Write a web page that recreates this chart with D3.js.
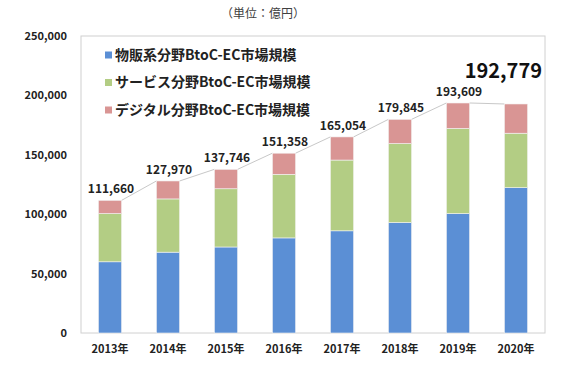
<!DOCTYPE html>
<html>
<head>
<meta charset="utf-8">
<script src="https://cdn.jsdelivr.net/npm/d3@7"></script>
<style>
  body { margin: 0; background: #fff; }
  svg { display: block; font-family: "Noto Sans CJK JP", "Noto Sans", sans-serif; }
</style>
</head>
<body>
<svg></svg>
<script>
const size = {w: 567, h: 377};
const margin = {t: 36, r: 22, b: 44, l: 81};

// data (億円)
const years = ['2013年', '2014年', '2015年', '2016年', '2017年', '2018年', '2019年', '2020年'];
const goods = [59931, 68043, 72398, 80043, 86008, 92992, 100515, 122333];
const services = [40600, 44816, 49014, 53532, 59568, 66471, 71672, 45832];
const digital = [11129, 15111, 16334, 17782, 19478, 20382, 21422, 24614];
const totals = [111660, 127970, 137746, 151358, 165054, 179845, 193609, 192779];
const seriesNames = ['物販系分野BtoC-EC市場規模', 'サービス分野BtoC-EC市場規模', 'デジタル分野BtoC-EC市場規模'];
const colors = ['#5b8fd5', '#b3cd84', '#d99594'];
const yTicks = [0, 50000, 100000, 150000, 200000, 250000];

const svg = d3.select('svg').attr('width', size.w).attr('height', size.h);

const rows = years.map((y, i) => ({year: y, s0: goods[i], s1: services[i], s2: digital[i], total: totals[i]}));
const stack = d3.stack().keys(['s0', 's1', 's2'])(rows);

const x = d3.scaleBand()
    .domain(years)
    .range([margin.l, size.w - margin.r])
    .paddingInner(0.6)
    .paddingOuter(0.3);

const y = d3.scaleLinear()
    .domain([0, 250000])
    .range([size.h - margin.b, margin.t]);

// unit note
svg.append('text')
    .attr('x', 263).attr('y', 18)
    .attr('text-anchor', 'middle')
    .style('font-size', '12px')
    .style('fill', '#404040')
    .text('（単位：億円）');

// plot frame
svg.append('rect')
    .attr('x', margin.l).attr('y', margin.t)
    .attr('width', size.w - margin.r - margin.l)
    .attr('height', size.h - margin.b - margin.t)
    .attr('fill', 'none')
    .attr('stroke', '#d0d0d0');

// y axis labels
const yAxis = d3.axisLeft(y).tickValues(yTicks).tickSize(0).tickPadding(14)
    .tickFormat(d3.format(','));
svg.append('g')
    .attr('transform', `translate(${margin.l},0)`)
    .call(yAxis)
    .call(g => g.select('.domain').remove())
    .selectAll('text')
    .style('font-size', '11px')
    .style('font-weight', 'bold')
    .style('fill', '#222')
    .style('font-family', '"Noto Sans CJK JP", sans-serif');

// x axis labels
const xAxis = d3.axisBottom(x).tickSize(0).tickPadding(12);
svg.append('g')
    .attr('transform', `translate(0,${size.h - margin.b})`)
    .call(xAxis)
    .call(g => g.select('.domain').remove())
    .selectAll('text')
    .style('font-size', '11px')
    .style('font-weight', 'bold')
    .style('fill', '#222')
    .style('font-family', '"Noto Sans CJK JP", sans-serif');

// connector lines between bar tops
const linkG = svg.append('g').classed('links', true);
linkG.selectAll('line')
    .data(rows.slice(1))
    .join('line')
    .attr('x1', (d, i) => x(rows[i].year) + x.bandwidth())
    .attr('y1', (d, i) => y(rows[i].total))
    .attr('x2', d => x(d.year))
    .attr('y2', d => y(d.total))
    .attr('stroke', '#c8c8c8')
    .attr('stroke-width', 1);

// stacked bars
const barsG = svg.append('g').classed('bars', true);
barsG.selectAll('g')
    .data(stack)
    .join('g')
    .attr('fill', (d, i) => colors[i])
    .selectAll('rect')
    .data(d => d)
    .join('rect')
    .attr('x', d => x(d.data.year))
    .attr('y', d => y(d[1]))
    .attr('width', x.bandwidth())
    .attr('height', d => y(d[0]) - y(d[1]))
    .attr('stroke', '#f4f4f4')
    .attr('stroke-width', 0.6);

// total labels (last one is shown big)
svg.append('g').selectAll('text')
    .data(rows.slice(0, -1))
    .join('text')
    .attr('x', d => x(d.year) + x.bandwidth() / 2 + 1)
    .attr('y', d => y(d.total) - 7)
    .attr('text-anchor', 'middle')
    .style('font-size', '12px')
    .style('font-weight', 'bold')
    .style('fill', '#222')
    .text(d => d3.format(',')(d.total));

const last = rows[rows.length - 1];
svg.append('text')
    .attr('x', size.w - margin.r - 3)
    .attr('y', 78)
    .attr('text-anchor', 'end')
    .style('font-size', '20px')
    .style('font-weight', 'bold')
    .style('fill', '#111')
    .text(d3.format(',')(last.total));

// legend
const legendG = svg.append('g').attr('transform', 'translate(105,55)');
const legendItems = legendG.selectAll('g')
    .data(seriesNames)
    .join('g')
    .attr('transform', (d, i) => `translate(0,${i * 27.5})`);
legendItems.append('rect')
    .attr('x', 0).attr('y', -3.5)
    .attr('width', 7).attr('height', 7)
    .attr('fill', (d, i) => colors[i]);
legendItems.append('text')
    .attr('x', 10).attr('y', 0)
    .attr('dy', '0.35em')
    .style('font-size', '14px')
    .style('font-weight', 'bold')
    .style('fill', '#222')
    .text(d => d);
</script>
</body>
</html>
